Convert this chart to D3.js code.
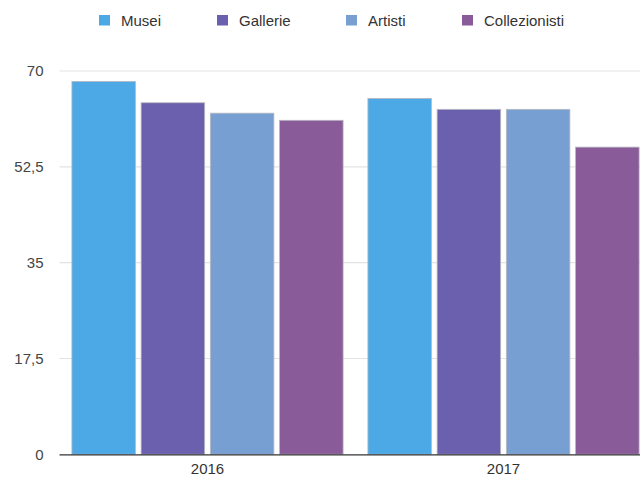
<!DOCTYPE html>
<html>
<head>
<meta charset="utf-8">
<script src="https://cdn.jsdelivr.net/npm/d3@7"></script>
<style>
  html, body { margin: 0; padding: 0; background: #fff; }
  svg { display: block; font-family: "Liberation Sans", Arial, Helvetica, sans-serif; }
</style>
</head>
<body>
<svg id="chart" width="640" height="479"></svg>
<script>
const years = ["2016", "2017"];
const seriesNames = ["Musei", "Gallerie", "Artisti", "Collezionisti"];
const musei = [68.1, 65.0];
const gallerie = [64.2, 63.0];
const artisti = [62.3, 63.0];
const collezionisti = [61.0, 56.1];
const yTicks = [0, 17.5, 35, 52.5, 70];
const colors = ["#4DA9E6", "#6B60AE", "#789FD1", "#895B99"];

const seriesValues = [musei, gallerie, artisti, collezionisti];

const svg = d3.select("#chart");
const margin = { left: 59.5, right: -11.5, top: 71, bottom: 24.7 };
const W = 640, H = 479;
const x0 = margin.left, x1 = W - margin.right;
const y0 = H - margin.bottom, y1 = margin.top;

const x = d3.scaleBand().domain(years).range([x0, x1]).paddingInner(0).paddingOuter(0);
const xs = d3.scaleBand().domain(seriesNames)
  .range([12.4, x.bandwidth() - 12.4]).paddingInner(0.082).paddingOuter(0);
const y = d3.scaleLinear().domain([0, 70]).range([y0, y1]);

// gridlines
const grid = svg.append("g").attr("class", "grid");
grid.selectAll("line").data(yTicks.filter(d => d !== 0)).join("line")
  .attr("x1", x0).attr("x2", W)
  .attr("y1", d => y(d)).attr("y2", d => y(d))
  .attr("stroke", "#e3e3e3").attr("stroke-width", 1.2);

// y axis labels
const fmt = d => String(d).replace(".", ",");
const yAxis = d3.axisLeft(y).tickValues(yTicks).tickFormat(fmt).tickSize(0).tickPadding(0);
const yg = svg.append("g").attr("transform", `translate(43.5,0)`).call(yAxis);
yg.select(".domain").remove();
yg.selectAll("text").attr("font-size", 15).attr("fill", "#444")
  .attr("font-family", "'Liberation Sans', Arial, sans-serif");

// bars
const groups = svg.append("g").selectAll("g").data(years).join("g")
  .attr("transform", d => `translate(${x(d)},0)`);
groups.selectAll("rect")
  .data((yr, i) => seriesNames.map((s, j) => ({ s, j, v: seriesValues[j][i] })))
  .join("rect")
  .attr("x", d => xs(d.s))
  .attr("width", xs.bandwidth())
  .attr("y", d => y(d.v))
  .attr("height", d => y(0) - y(d.v))
  .attr("fill", d => colors[d.j])
  .attr("stroke", "#b8b8c0").attr("stroke-width", 0.8);

// x axis
const xAxis = d3.axisBottom(x).tickSize(0).tickPadding(9);
const xg = svg.append("g").attr("transform", `translate(0,${y0})`).call(xAxis);
xg.select(".domain").attr("d", `M${x0},0.5H${W}`).attr("stroke", "#333").attr("stroke-width", 1.2);
xg.selectAll("text").attr("font-size", 15).attr("fill", "#333")
  .attr("font-family", "'Liberation Sans', Arial, sans-serif");

// legend
const legendX = [99, 217, 346, 462];
const leg = svg.append("g").selectAll("g").data(seriesNames).join("g")
  .attr("transform", (d, i) => `translate(${legendX[i]},15)`);
leg.append("rect").attr("width", 11).attr("height", 10.5)
  .attr("fill", (d, i) => colors[i]);
leg.append("text").attr("x", 22).attr("y", 10.5)
  .attr("font-size", 15).attr("fill", "#333").text(d => d);
</script>
</body>
</html>
